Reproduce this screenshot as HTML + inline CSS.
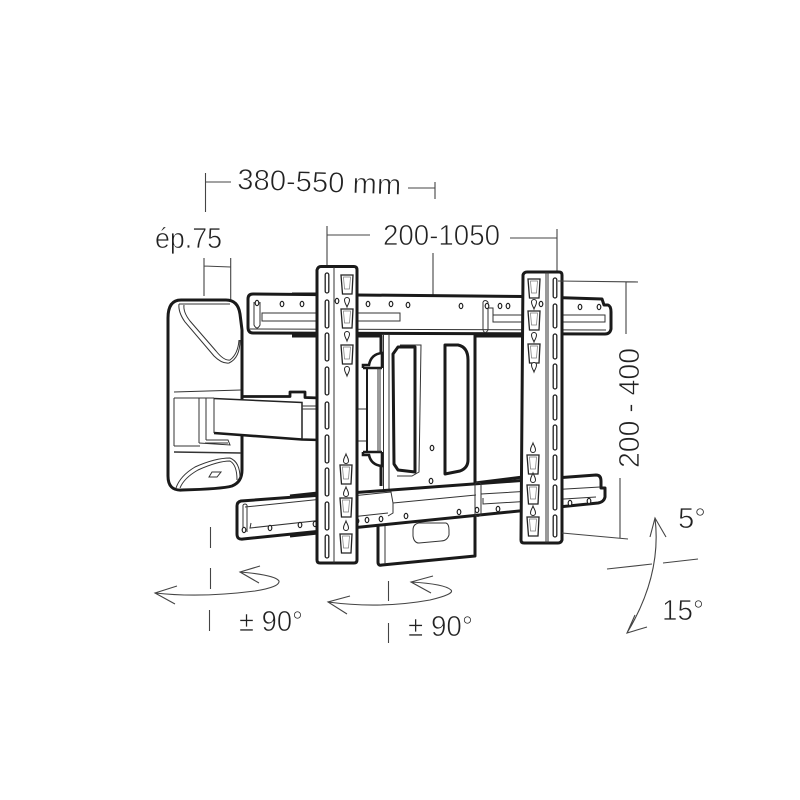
<!DOCTYPE html>
<html><head><meta charset="utf-8"><style>
html,body{margin:0;padding:0;background:#fff}
svg{display:block}
text{font-family:"Liberation Sans",sans-serif;fill:#222;font-size:29px;stroke:#fff;stroke-width:.7px}
.h{fill:#fff;stroke:#1a1a1a;stroke-width:3;stroke-linejoin:round}
.m{fill:none;stroke:#1a1a1a;stroke-width:3;stroke-linejoin:round}
.t{fill:none;stroke:#333;stroke-width:1}
.w{fill:#fff;stroke:#333;stroke-width:1}
.d{fill:none;stroke:#444;stroke-width:1.1}
</style></head><body>
<svg width="800" height="800" viewBox="0 0 800 800" xmlns="http://www.w3.org/2000/svg">
<defs>
<g id="hole"><ellipse cx="0" cy="0" rx="1.800" ry="2.600" fill="#fff" stroke="#222" stroke-width="1.200"/></g>
<g id="key"><path d="M-2.500 -3a2.500 2.500 0 0 1 5 0c0 3-1.500 4-2.500 7c-1-3-2.500-4-2.500-7z" fill="#fff" stroke="#222" stroke-width="1"/></g>
<g id="yek"><path d="M-2.500 3a2.500 2.500 0 0 0 5 0c0-3-1.500-4-2.500-7c-1 3-2.500 4-2.500 7z" fill="#fff" stroke="#222" stroke-width="1"/></g>
<g id="hang"><path d="M-6 0H6L5 19H-4.500Z" fill="#fff" stroke="#222" stroke-width="1.300"/><path d="M-3.500 2H3.500L2.500 14H-2.500Z" fill="#fff" stroke="#777" stroke-width=".7"/></g>
</defs>

<!-- dimension lines -->
<path class="d" d="M205.500 173V212M206 182H231M408 188L435 188M435 182V199M204 258V296M230.700 258V326M204 266L230.700 267M327 226V270M327 235H370M510 238H557M557 229V290M433 253V320"/>

<!-- lower central plate -->
<path class="h" d="M378 510V562Q378 566 382 565L475 556V500Z"/>
<path class="t" d="M385 510V564"/>
<path class="w" d="M419 523H446Q449 524 449 530V535Q447 541 441 541L419 543Q414 543 413 536V530Q413 524 419 523Z"/>

<!-- central plate -->
<path d="M381 335H523V477L475 483V500H381Z" fill="#fff"/>
<path class="m" d="M475 335V500M475 336H523M475 483L523 477"/>
<path class="t" d="M383.500 335V500M389 335V500"/>
<path class="t" d="M400 345H421L419 472L412 476H397"/>
<path class="m" d="M398 347H415V472L398 470L394 464L393 354Z"/>
<path class="m" d="M445 345H458Q468 347 468 360V460Q468 468 460 471L445 474Z"/>
<use href="#hole" x="432" y="448"/><use href="#hole" x="431" y="481"/>

<!-- left side of centre / bracket -->
<path class="m" d="M357 336H381V366M357 336V408M357 442V486M381 462V486"/>
<path class="t" d="M357 409H368M357 441H368"/>
<path d="M363 368V365H369Q371 354 382 353V368M363 368H382M363 452V455H369Q371 465 382 466V452M363 452H382" fill="#fff" stroke="#1a1a1a" stroke-width="2.600"/>
<path class="m" d="M367 369V451" style="stroke-width:2"/>
<path class="t" d="M378 368V452M380 368V452"/>

<!-- upper plate -->
<path class="m" d="M292 294H318M292 336H318"/>
<path class="h" d="M253 294L524 296.500L602 299L604 305H608Q611 306 611 312V329Q610 334 605 334L253 333Q248 333 248 327V299Q248 294 253 294Z"/>
<path class="t" d="M262 313H400V321H262ZM493 315H605V322H493ZM488 302V330M483 302V330Q485 335 488 330M254 302V325Q257 331 260 325V302M250 329L606 330M483 302Q485 299 488 302M493 315V308H488"/>
<use href="#hole" x="257" y="303"/><use href="#hole" x="282" y="304"/><use href="#hole" x="302" y="304"/><use href="#hole" x="368" y="304"/><use href="#hole" x="391" y="304"/><use href="#hole" x="408" y="305"/><use href="#hole" x="461" y="306"/><use href="#hole" x="487" y="306"/><use href="#hole" x="500" y="306"/><use href="#hole" x="508" y="306"/><use href="#hole" x="580" y="307"/><use href="#hole" x="599" y="307"/>

<!-- lower plate -->
<path class="m" d="M290 496L318 493M290 536L318 533"/>
<path class="h" d="M241 501L596 475Q601 475 601 481V488H605V497Q604 502 598 503L243 539Q237 540 237 534V506Q237 502 241 501Z"/>
<path class="t" d="M245 507L391 492L393 503V513L388 516M251 523L250 528L388 513M243 505V532M247 505V532M243 505Q245 503 247 505M475 484V515Q478 518 481 515V484Q478 480 475 484M481 494L600 487M483 498V504L596 497M393 503L476 495"/>
<use href="#hole" x="244" y="530"/><use href="#hole" x="270" y="528"/><use href="#hole" x="300" y="525"/><use href="#hole" x="315" y="524"/><use href="#hole" x="357" y="521"/><use href="#hole" x="367" y="520"/><use href="#hole" x="381" y="519"/><use href="#hole" x="406" y="516"/><use href="#hole" x="459" y="512"/><use href="#hole" x="477" y="510"/><use href="#hole" x="498" y="509"/><use href="#hole" x="570" y="503"/><use href="#hole" x="589" y="501"/>

<!-- wall plate -->
<path d="M181 300H226Q238 300 240 314L242 330V470Q242 482 232 486Q222 489 182 490Q168 491 168 476V318Q168 300 181 300Z" fill="#fff" stroke="#1a1a1a" stroke-width="3"/>
<path class="t" d="M174 392L241 390M174 398H214M174 398V446M199 398V443M206 398V440M174 446L200 446"/>
<path d="M174 452L241 453" fill="none" stroke="#333" stroke-width="1.400"/>
<path class="t" d="M179 304H230M179 304Q178 312 185 322L214 356Q222 364 229 363Q240 358 240 340M184 305Q183 312 190 321L216 351Q224 361 230 360Q238 354 239 340"/>
<path class="t" d="M176 488Q180 476 195 467Q215 458 230 458Q240 462 240 478M180 488Q184 478 198 470Q218 461 230 461Q237 465 237 480"/>
<path class="t" d="M209 477L212 472H221L217 477Z"/>
<path class="t" d="M199 443L230 445L228 440L206 440M205 443H228"/>

<!-- arm -->
<path d="M214 398L302 402H320V439L302 439L214 433Z" fill="#fff"/>
<path class="m" d="M242 396.500H290V392H305V397.500L320 398" style="stroke-width:2.800"/>
<path class="m" d="M214 433L302 439.500L320 440" style="stroke-width:2.600"/>
<path d="M214 398.500L302 402.500V439" fill="none" stroke="#222" stroke-width="1.500"/>
<path d="M214 398.500V433" fill="none" stroke="#333" stroke-width="1"/>
<path class="t" d="M302 406H320M302 409H320"/>

<!-- strips -->
<path class="h" d="M321 266.500H354Q357 266.500 357 270V560Q357 563 354 563H320Q317 563 317 560V270Q318 266.500 321 266.500Z"/>
<path class="t" d="M334 267V563"/>
<path class="h" d="M527 272H559Q562 272 562 275V540Q561 543 558 543H524Q521 543 521 540L523 275Q524 272 527 272Z"/>
<path class="t" d="M546 272V543M548 272V543"/>
<g fill="#fff" stroke="#222" stroke-width="1.300">
<rect x="325.200" y="273" width="3.600" height="20" rx="1.800"/><rect x="325.200" y="300" width="3.600" height="28" rx="1.800"/><rect x="325.200" y="333" width="3.600" height="28" rx="1.800"/><rect x="325.200" y="367" width="3.600" height="28" rx="1.800"/><rect x="325.200" y="402" width="3.600" height="27" rx="1.800"/><rect x="325.200" y="435" width="3.600" height="28" rx="1.800"/><rect x="325.200" y="468" width="3.600" height="28" rx="1.800"/><rect x="325.200" y="502" width="3.600" height="28" rx="1.800"/><rect x="325.200" y="535" width="3.600" height="23" rx="1.800"/>
<rect x="553.200" y="278" width="3.600" height="20" rx="1.800"/><rect x="553.200" y="304" width="3.600" height="24" rx="1.800"/><rect x="553.200" y="334" width="3.600" height="25" rx="1.800"/><rect x="553.200" y="364" width="3.600" height="25" rx="1.800"/><rect x="553.200" y="395" width="3.600" height="25" rx="1.800"/><rect x="553.200" y="425" width="3.600" height="25" rx="1.800"/><rect x="553.200" y="455" width="3.600" height="25" rx="1.800"/><rect x="553.200" y="485" width="3.600" height="25" rx="1.800"/><rect x="553.200" y="515" width="3.600" height="22" rx="1.800"/>
</g>
<use href="#hang" x="347" y="275"/><use href="#key" x="347" y="303"/><use href="#hang" x="347" y="309"/><use href="#key" x="347" y="337"/><use href="#hang" x="347" y="345"/><use href="#key" x="347" y="372"/>
<use href="#yek" x="346" y="458"/><use href="#hang" x="346" y="465"/><use href="#yek" x="346" y="491"/><use href="#hang" x="346" y="498"/><use href="#yek" x="346" y="525"/><use href="#hang" x="346" y="534"/>
<use href="#hole" x="337" y="301"/>
<use href="#hang" x="534" y="279"/><use href="#key" x="534" y="305"/><use href="#hang" x="534" y="311"/><use href="#key" x="534" y="338"/><use href="#hang" x="534" y="344"/><use href="#key" x="534" y="368"/><use href="#hole" x="541" y="304"/>
<use href="#yek" x="533" y="447"/><use href="#hang" x="533" y="455"/><use href="#yek" x="533" y="477"/><use href="#hang" x="533" y="485"/><use href="#yek" x="533" y="510"/><use href="#hang" x="533" y="517"/>

<!-- rotation arrows -->
<path class="d" d="M155 593Q200 598 255 591Q280 587 279 581Q275 575 240 572M177 586L155 593L175 604M260 566L240 572L259 583M328 602Q380 609 430 600Q455 594 451 590Q445 584 411 582M350 596L328 602L347 614M433 576L411 582L431 593M210.500 527V548M210.500 568V589M209.500 610V631M388.500 581V601M388.500 623V643"/>
<path class="d" d="M655 518Q662 575 627 633M650 537L655 518L666 537M635 615L627 633L647 627M607 569L652 564M663 563L698 559"/>
<path class="d" d="M558 281L638 282M626 282V334M620 478V538M562 533L628 539"/>

<!-- labels -->
<text transform="translate(237 189) rotate(2)" textLength="164" lengthAdjust="spacingAndGlyphs">380-550 mm</text>
<text x="155" y="248" textLength="67" lengthAdjust="spacingAndGlyphs">ép.75</text>
<text x="383" y="245" textLength="117" lengthAdjust="spacingAndGlyphs">200-1050</text>
<text transform="translate(639 468) rotate(-90)" textLength="120" lengthAdjust="spacingAndGlyphs">200 - 400</text>
<text x="239" y="631" textLength="64" lengthAdjust="spacingAndGlyphs">± 90°</text>
<text x="408" y="636" textLength="65" lengthAdjust="spacingAndGlyphs">± 90°</text>
<text x="678" y="528" textLength="28" lengthAdjust="spacingAndGlyphs">5°</text>
<text x="662" y="620" textLength="42" lengthAdjust="spacingAndGlyphs">15°</text>
</svg>
</body></html>
